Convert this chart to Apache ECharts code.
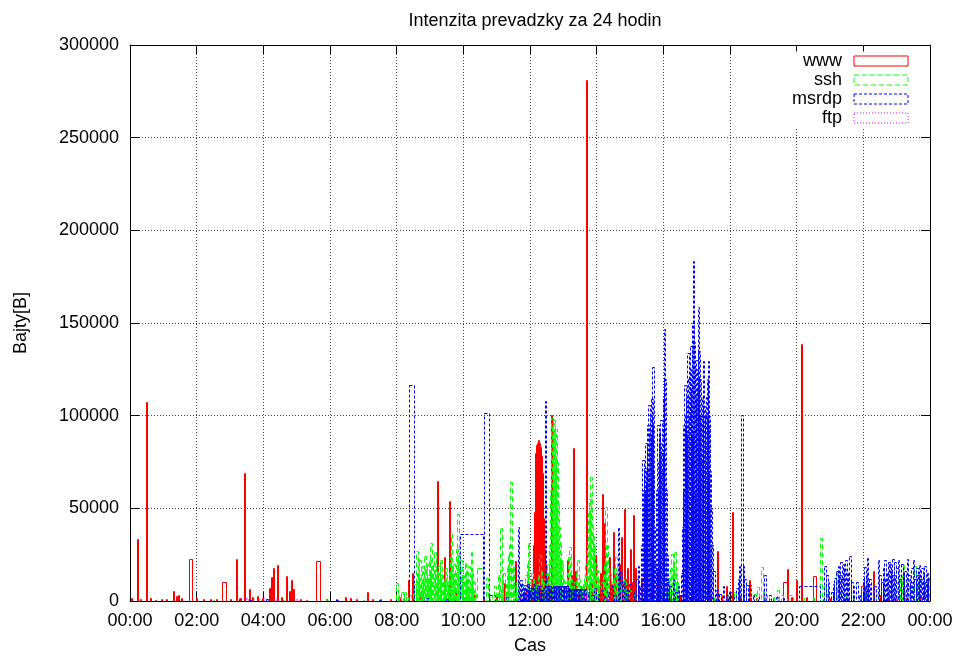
<!DOCTYPE html>
<html>
<head>
<meta charset="utf-8">
<title>Intenzita prevadzky za 24 hodin</title>
<script src="https://cdn.jsdelivr.net/npm/echarts@6/dist/echarts.min.js"></script>
<style>
  html, body { margin: 0; padding: 0; background: #fff; }
  #chart { width: 957px; height: 660px; }
</style>
</head>
<body>
<div id="chart"></div>
<script>
// tick labels of the time axis (every 2 hours)
const xTickLabels = ['00:00', '02:00', '04:00', '06:00', '08:00', '10:00', '12:00',
  '14:00', '16:00', '18:00', '20:00', '22:00', '00:00']
const seriesNames = ['www', 'ssh', 'msrdp', 'ftp']

// [hodina, bajty] or [hodina, bajty, sirka boxu v minutach]
const wwwData = [
  [0.05, 1500], [0.21, 33300], [0.3, 1200], [0.48, 107400], [0.6, 1500], [0.75, 800],
  [0.95, 1000], [1.1, 900], [1.29, 5400], [1.38, 2700], [1.44, 3500], [1.55, 1500],
  [1.82, 22600, 5.5], [2.0, 1500], [2.2, 1000], [2.4, 1200], [2.6, 900],
  [2.82, 10000, 6.5], [3.0, 1000], [3.18, 22600], [3.3, 1500], [3.44, 69200], [3.57, 6600],
  [3.66, 2000], [3.81, 2500], [3.96, 1500], [4.17, 7000], [4.23, 12700], [4.29, 17700],
  [4.43, 19500], [4.53, 2200], [4.7, 13300], [4.77, 5500], [4.83, 11500], [4.9, 6500],
  [5.1, 1200], [5.3, 800], [5.64, 21500, 7], [5.9, 1000], [6.2, 900], [6.45, 2200],
  [6.6, 1500], [6.8, 1000], [7.11, 4700], [7.26, 1200], [7.5, 900], [7.8, 1000], [8.1, 1500],
  [8.35, 11500], [8.48, 15000], [8.7, 2000], [9.0, 3000], [9.23, 65000], [9.44, 24000],
  [9.57, 54100], [9.75, 5200], [10.0, 2000], [10.32, 3000], [10.6, 1500], [11.0, 2500],
  [11.24, 9700], [11.55, 21700], [11.7, 4000], [11.9, 6000], [12.05, 12000], [12.1, 30000],
  [12.13, 48200], [12.16, 80000], [12.19, 84000], [12.22, 85000], [12.25, 86700],
  [12.28, 85000], [12.31, 83200], [12.34, 78000], [12.37, 69200], [12.4, 45000],
  [12.43, 28000], [12.47, 20000], [12.52, 15000], [12.58, 9000], [12.65, 100200],
  [12.75, 6000], [12.9, 12000], [13.0, 5000], [13.12, 22200], [13.2, 9000], [13.25, 14100],
  [13.3, 82800], [13.37, 16000], [13.45, 5000], [13.5, 8000], [13.6, 4000], [13.7, 281200],
  [13.77, 10000], [13.85, 12000], [13.95, 25000], [14.05, 8000], [14.12, 15000],
  [14.18, 57900], [14.23, 41900], [14.3, 12000], [14.37, 24000], [14.43, 9000],
  [14.49, 37100], [14.55, 15000], [14.61, 10000], [14.68, 20000], [14.75, 34800],
  [14.83, 49500], [14.88, 12000], [14.93, 17700], [15.0, 28000], [15.05, 10000],
  [15.11, 46400], [15.17, 17700], [15.25, 8000], [15.33, 12400], [15.45, 5000], [15.6, 3000],
  [15.81, 14100], [15.96, 4000], [16.2, 2000], [16.5, 3000], [16.8, 2000], [17.1, 2500],
  [17.4, 3000], [17.61, 27000], [17.75, 3000], [17.88, 7900], [18.08, 48200], [18.3, 2000],
  [18.57, 11100], [18.8, 1500], [19.04, 2200], [19.3, 1500], [19.65, 10200, 6],
  [19.73, 17400], [19.85, 2000], [19.98, 11500], [20.15, 138700], [20.28, 2000],
  [20.53, 13300, 6], [20.8, 1200], [21.0, 1500], [21.4, 1000], [21.7, 2000],
  [21.98, 7900, 7.5], [22.3, 16300], [22.5, 3000], [22.74, 2000], [23.0, 1000],
  [23.25, 1500], [23.5, 1000], [23.7, 2500], [23.9, 1200]
]

const sshData = [
  [2.5, 600], [4.6, 800], [5.9, 500], [7.0, 700], [7.5, 600], [8.0, 9700], [8.05, 3000],
  [8.1, 2000], [8.15, 5000], [8.2, 1500], [8.25, 5000], [8.3, 2000], [8.4, 3000], [8.5, 6000],
  [8.55, 9000], [8.6, 27000], [8.63, 15000], [8.67, 12400], [8.7, 22000], [8.73, 8000],
  [8.75, 16000], [8.78, 19000], [8.81, 12000], [8.84, 24200], [8.87, 17000], [8.9, 9000],
  [8.93, 20000], [8.96, 14000], [8.99, 22000], [9.03, 31200], [9.06, 18000], [9.09, 12000],
  [9.12, 20000], [9.14, 26700], [9.17, 16000], [9.19, 9000], [9.22, 13000], [9.24, 15000],
  [9.27, 19000], [9.3, 10000], [9.33, 22200], [9.36, 14000], [9.4, 8000], [9.43, 12000],
  [9.46, 16000], [9.48, 18000], [9.51, 9000], [9.55, 11000], [9.58, 15000], [9.61, 24000],
  [9.64, 36400], [9.67, 18000], [9.7, 12000], [9.72, 20000], [9.75, 15000], [9.78, 9000],
  [9.81, 28000], [9.83, 46800], [9.86, 25000], [9.89, 12000], [9.92, 22200], [9.95, 17000],
  [9.99, 14000], [10.02, 9000], [10.06, 20400], [10.09, 16000], [10.11, 8000], [10.14, 12000],
  [10.17, 19000], [10.2, 7000], [10.24, 26700], [10.27, 15000], [10.3, 6000], [10.32, 10000],
  [10.36, 4000], [10.5, 17700, 11], [10.71, 12400], [10.83, 3000], [10.95, 8000],
  [11.0, 4000], [11.05, 14000], [11.09, 6000], [11.13, 39200], [11.17, 12000], [11.22, 15000],
  [11.26, 5000], [11.29, 9000], [11.32, 18000], [11.35, 24900], [11.39, 30000],
  [11.43, 64300], [11.46, 22000], [11.5, 18600], [11.54, 8000], [11.58, 5000], [11.61, 10000],
  [11.66, 4000], [11.7, 6000], [11.76, 8000], [11.82, 5000], [11.88, 14000], [11.92, 20000],
  [11.95, 31200], [11.99, 10000], [12.03, 7000], [12.06, 15000], [12.1, 12000], [12.15, 6000],
  [12.2, 9000], [12.25, 14000], [12.3, 24900], [12.34, 16000], [12.38, 10000], [12.42, 12000],
  [12.46, 8000], [12.5, 15000], [12.54, 20000], [12.58, 30000], [12.62, 60000],
  [12.66, 99000], [12.69, 96000], [12.71, 97500], [12.74, 90000], [12.78, 93000],
  [12.81, 75000], [12.84, 52000], [12.87, 40000], [12.9, 30000], [12.93, 22000],
  [12.96, 20000], [13.0, 12000], [13.04, 8000], [13.08, 10000], [13.12, 15000],
  [13.16, 24000], [13.19, 29400], [13.23, 12000], [13.29, 8000], [13.35, 10000],
  [13.39, 16000], [13.43, 22200], [13.47, 12000], [13.52, 8000], [13.56, 6000], [13.6, 9000],
  [13.64, 14000], [13.68, 20000], [13.72, 30000], [13.76, 47300], [13.8, 55000],
  [13.83, 67000], [13.86, 40000], [13.9, 35000], [13.93, 29400], [13.97, 20000],
  [14.01, 16800], [14.05, 12000], [14.1, 8000], [14.15, 10000], [14.2, 14000], [14.24, 20000],
  [14.28, 50900], [14.31, 30000], [14.35, 18000], [14.4, 15000], [14.45, 10000],
  [14.5, 12000], [14.54, 18000], [14.58, 24000], [14.62, 14000], [14.66, 10000], [14.7, 8000],
  [14.75, 6000], [14.8, 12000], [14.85, 10000], [14.9, 5000], [15.0, 6000], [15.1, 4000],
  [15.2, 3000], [15.3, 4000], [15.45, 2000], [15.6, 3000], [15.8, 2000], [15.99, 5000],
  [16.05, 3000], [16.1, 6000], [16.14, 12400], [16.18, 9000], [16.22, 18000], [16.26, 25400],
  [16.3, 20000], [16.34, 26300], [16.38, 15000], [16.41, 10000], [16.44, 8000], [16.5, 3000],
  [17.1, 3000], [17.5, 2000], [17.7, 4000], [17.95, 2000], [18.15, 5000], [18.3, 2000],
  [18.45, 3000], [18.6, 2000], [18.75, 4000], [18.84, 7300], [18.95, 18100], [19.0, 6000],
  [19.08, 3000], [19.3, 2000], [19.44, 6200], [19.55, 3000], [19.8, 3000, 12],
  [20.2, 1500], [20.5, 2000], [20.73, 33900], [20.85, 8000], [20.94, 5000], [21.1, 6000],
  [21.19, 15600], [21.3, 4000], [21.45, 3000], [21.7, 2000], [22.05, 5000], [22.4, 3000],
  [22.6, 5000], [22.8, 8000], [22.92, 6000], [23.04, 10000], [23.12, 14000], [23.2, 19500],
  [23.27, 8000], [23.34, 12000], [23.45, 6000], [23.54, 18800], [23.62, 9000], [23.7, 10000],
  [23.8, 6000], [23.88, 9000], [23.95, 12400]
]

const msrdpData = [
  [3.3, 1200], [3.6, 800], [4.1, 1000], [6.2, 500], [7.5, 700], [8.44, 116300, 8.5],
  [8.9, 1500], [9.5, 1200], [10.25, 36400, 42], [10.7, 101600, 9], [10.86, 3200, 10],
  [11.3, 2000], [11.65, 40100, 3], [11.72, 11500], [11.75, 9000], [11.8, 5000], [11.83, 7000],
  [11.85, 8500], [11.9, 6000], [11.93, 9000], [11.95, 8000], [12.0, 4000], [12.03, 7000],
  [12.05, 6500], [12.1, 9000], [12.13, 6000], [12.15, 5000], [12.2, 7000], [12.23, 8000],
  [12.25, 6000], [12.3, 8000], [12.33, 6000], [12.35, 5500], [12.4, 7000], [12.46, 107700, 3],
  [12.5, 6000], [12.53, 8000], [12.55, 7000], [12.6, 8000], [12.63, 7000], [12.65, 7500],
  [12.7, 8000], [12.73, 8300], [12.75, 8300], [12.8, 8000], [12.83, 8300], [12.85, 8300],
  [12.9, 8300], [12.93, 8000], [12.95, 8000], [13.0, 8300], [13.03, 8000], [13.05, 8000],
  [13.1, 8300], [13.13, 7000], [13.15, 7000], [13.2, 6600], [13.23, 6600], [13.25, 6600],
  [13.3, 6600], [13.33, 6600], [13.35, 6600], [13.4, 6600], [13.43, 6600], [13.45, 6600],
  [13.5, 6600], [13.53, 6600], [13.55, 6600], [13.6, 6600], [13.63, 6600], [13.65, 6600],
  [13.75, 5000], [13.85, 3000], [13.95, 7000], [14.05, 4000], [14.15, 6000], [14.25, 2000],
  [14.35, 5000], [14.45, 8000], [14.55, 3000], [14.65, 39200], [14.72, 15400], [14.8, 10000],
  [14.9, 6000], [15.0, 9000], [15.1, 5000], [15.2, 12000], [15.25, 18800], [15.32, 8000],
  [15.36, 30000], [15.38, 76000], [15.4, 50000], [15.42, 60000], [15.44, 72000],
  [15.47, 85000], [15.49, 64000], [15.51, 70000], [15.53, 95000], [15.56, 105500],
  [15.58, 80000], [15.6, 90000], [15.62, 100000], [15.65, 109000], [15.67, 95000],
  [15.68, 126200], [15.7, 70000], [15.72, 40000], [15.75, 20000], [15.78, 17700],
  [15.81, 60000], [15.84, 94800], [15.86, 75000], [15.88, 91000], [15.9, 85000],
  [15.93, 97500], [15.96, 80000], [15.98, 70000], [16.0, 110000], [16.03, 146800],
  [16.05, 120000], [16.08, 60000], [16.11, 25000], [16.14, 10000], [16.2, 8000],
  [16.3, 12000], [16.38, 5000], [16.45, 8000], [16.5, 3000], [16.56, 15000], [16.58, 40000],
  [16.6, 60000], [16.62, 95000], [16.64, 116300], [16.66, 100000], [16.68, 90000],
  [16.7, 110000], [16.72, 70000], [16.74, 133900], [16.76, 120000], [16.79, 100000],
  [16.81, 125000], [16.83, 137800], [16.85, 115000], [16.87, 90000], [16.89, 150000],
  [16.9, 183500], [16.92, 140000], [16.95, 110000], [16.97, 125000], [16.98, 60000],
  [17.0, 130000], [17.02, 115000], [17.05, 158400], [17.07, 135000], [17.1, 120000],
  [17.12, 100000], [17.13, 75000], [17.15, 95000], [17.17, 110000], [17.2, 129700],
  [17.22, 105000], [17.25, 85000], [17.27, 100000], [17.28, 65000], [17.3, 110000],
  [17.33, 120000], [17.35, 129700], [17.37, 100000], [17.38, 95000], [17.4, 70000],
  [17.42, 50000], [17.45, 30000], [17.52, 16000], [17.6, 6000], [17.7, 4000], [17.8, 8000],
  [17.9, 3000], [18.0, 5000], [18.1, 2000], [18.2, 7000], [18.25, 12000], [18.28, 18800],
  [18.35, 100200, 3], [18.4, 18800], [18.45, 12000], [18.5, 8700], [18.6, 8700],
  [18.7, 3000], [18.85, 2000], [19.05, 14100], [19.2, 3000], [19.4, 2000], [19.6, 1500],
  [20.38, 7900, 38], [20.85, 18800], [20.9, 14000], [20.95, 10000], [21.05, 5000],
  [21.1, 9000], [21.15, 12400], [21.2, 16000], [21.25, 18800], [21.29, 14000], [21.32, 21000],
  [21.36, 12000], [21.4, 20000], [21.44, 17000], [21.48, 22000], [21.52, 12000],
  [21.55, 15000], [21.6, 24500], [21.65, 10000], [21.7, 8000], [21.8, 10000], [21.88, 3000],
  [22.0, 12000], [22.05, 18100], [22.09, 14000], [22.12, 23100], [22.16, 9000], [22.2, 12000],
  [22.35, 8000], [22.45, 22200], [22.5, 14000], [22.55, 10000], [22.6, 18000],
  [22.65, 22200], [22.68, 12000], [22.72, 15000], [22.76, 21000], [22.8, 20000],
  [22.84, 16000], [22.88, 22500], [22.92, 14000], [22.95, 21000], [23.0, 18000],
  [23.05, 22000], [23.1, 12000], [23.15, 20000], [23.2, 14000], [23.25, 16000],
  [23.32, 22500], [23.37, 14000], [23.42, 10000], [23.46, 18000], [23.5, 22200],
  [23.55, 12000], [23.6, 18000], [23.64, 14000], [23.68, 19500], [23.72, 12000],
  [23.76, 17700], [23.8, 14000], [23.84, 19000], [23.88, 10000], [23.92, 15000],
  [23.97, 12000]
]

const ftpData = [
  [3.3, 1500], [3.5, 1500], [3.7, 1200], [3.9, 1000], [4.0, 1800], [4.4, 1000], [5.0, 900],
  [8.8, 800], [12.9, 2000], [13.55, 5500], [13.65, 4000], [13.8, 3000], [14.3, 1500],
  [15.6, 1200], [17.1, 1000], [19.2, 900], [21.0, 1000], [23.0, 800]
]

const colors = ['#ff0000', '#00ff00', '#0000ff', '#ff00ff']
const dashes = [null, [5, 3], [3, 2], [1, 2]]
const defWidths = [1.8, 3, 3, 3] // minuty

function boxRenderer(color, dash) {
  return function(params, api) {
    const h = api.value(0)
    const v = api.value(1)
    const w = api.value(2) / 60
    const p0 = api.coord([h - w / 2, v])
    const p1 = api.coord([h + w / 2, 0])
    const x0 = Math.round(p0[0]) + 0.5
    const x1 = Math.max(Math.round(p1[0]) + 0.5, x0 + 1)
    const y0 = Math.round(p0[1]) + 0.5
    const y1 = Math.round(p1[1]) + 0.5
    return {
      type: 'rect',
      shape: { x: x0, y: y0, width: x1 - x0, height: y1 - y0 },
      style: { fill: 'none', stroke: color, lineWidth: 1, lineDash: dash }
    }
  }
}

const allData = [wwwData, sshData, msrdpData, ftpData]
const font = 'Liberation Sans, Arial, sans-serif'

const chart = echarts.init(document.getElementById('chart'))
chart.setOption({
  animation: false,
  backgroundColor: '#fff',
  title: {
    text: 'Intenzita prevadzky za 24 hodin',
    left: 530,
    top: 7,
    textAlign: 'center',
    textStyle: { fontSize: 18, fontWeight: 'normal', color: '#000', fontFamily: font }
  },
  legend: {
    orient: 'vertical',
    align: 'right',
    right: 27.5,
    top: 51.5,
    padding: [0, 21, 0, 8],
    backgroundColor: '#fff',
    itemWidth: 54,
    itemHeight: 10,
    itemGap: 0,
    selectedMode: false,
    textStyle: { fontSize: 18, color: '#000', fontFamily: font, lineHeight: 19, padding: [0, 7, 0, 0] },
    data: seriesNames.map((n, i) => ({
      name: n,
      icon: 'rect',
      itemStyle: {
        color: 'rgba(0,0,0,0)',
        borderColor: colors[i],
        borderWidth: 1,
        borderType: dashes[i] || 'solid'
      }
    }))
  },
  grid: { left: 130, right: 27, top: 45, bottom: 57 },
  xAxis: [
    {
      type: 'value',
      min: 0,
      max: 24,
      interval: 2,
      name: 'Cas',
      nameLocation: 'middle',
      nameGap: 36,
      nameTextStyle: { fontSize: 18, color: '#000', fontFamily: font },
      axisLine: { onZero: false, lineStyle: { color: '#000', width: 1 } },
      axisTick: { inside: true, length: 9, lineStyle: { color: '#000' } },
      axisLabel: {
        margin: 11,
        fontSize: 18,
        color: '#000',
        fontFamily: font,
        formatter: (v) => xTickLabels[Math.round(v / 2)]
      },
      splitLine: { show: true, lineStyle: { color: '#444', type: [1, 2] } }
    },
    {
      type: 'value',
      position: 'top',
      min: 0,
      max: 24,
      interval: 2,
      axisLine: { onZero: false, lineStyle: { color: '#000', width: 1 } },
      axisTick: { inside: true, length: 9, lineStyle: { color: '#000' } },
      axisLabel: { show: false },
      splitLine: { show: false }
    }
  ],
  yAxis: [
    {
      type: 'value',
      min: 0,
      max: 300000,
      interval: 50000,
      name: 'Bajty[B]',
      nameLocation: 'middle',
      nameGap: 100,
      nameTextStyle: { fontSize: 18, color: '#000', fontFamily: font },
      axisLine: { show: true, onZero: false, lineStyle: { color: '#000', width: 1 } },
      axisTick: { show: true, inside: true, length: 9, lineStyle: { color: '#000' } },
      axisLabel: {
        margin: 11,
        fontSize: 18,
        color: '#000',
        fontFamily: font,
        formatter: (v) => String(v)
      },
      splitLine: { show: true, lineStyle: { color: '#444', type: [1, 2] } }
    },
    {
      type: 'value',
      position: 'right',
      min: 0,
      max: 300000,
      interval: 50000,
      axisLine: { show: true, onZero: false, lineStyle: { color: '#000', width: 1 } },
      axisTick: { show: true, inside: true, length: 9, lineStyle: { color: '#000' } },
      axisLabel: { show: false },
      splitLine: { show: false }
    }
  ],
  series: seriesNames.map((n, i) => ({
    name: n,
    type: 'custom',
    xAxisIndex: 0,
    yAxisIndex: 0,
    silent: true,
    clip: true,
    encode: { x: 0, y: 1 },
    itemStyle: { color: colors[i] },
    renderItem: boxRenderer(colors[i], dashes[i]),
    data: allData[i].map(d => [d[0], d[1], d[2] || defWidths[i]])
  }))
})
</script>
</body>
</html>
